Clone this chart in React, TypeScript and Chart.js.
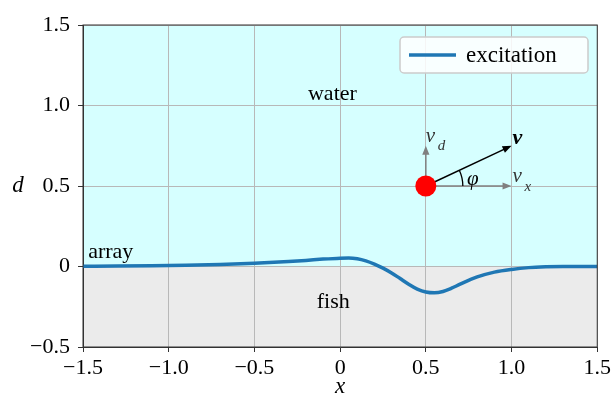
import React, { useEffect, useRef } from "react";
import { Chart, registerables } from "chart.js";

Chart.register(...registerables);

// curve data: excitation profile along the array
const xValues = [-1.5, -1.3, -1.1, -0.9, -0.7, -0.5, -0.3, -0.2, -0.1, 0, 0.05, 0.1, 0.15, 0.2, 0.25, 0.3, 0.35, 0.4, 0.45, 0.5, 0.55, 0.6, 0.65, 0.7, 0.8, 0.9, 1.0, 1.1, 1.2, 1.3, 1.5];
const yValues = [0.002, 0.003, 0.005, 0.008, 0.013, 0.02, 0.031, 0.038, 0.046, 0.052, 0.053, 0.048, 0.035, 0.015, -0.01, -0.04, -0.075, -0.11, -0.14, -0.158, -0.163, -0.155, -0.135, -0.11, -0.065, -0.035, -0.018, -0.007, -0.002, 0.0, 0.0];

const xTicks = [-1.5, -1.0, -0.5, 0, 0.5, 1.0, 1.5];
const xTickLabels = ["\u22121.5", "\u22121.0", "\u22120.5", "0", "0.5", "1.0", "1.5"];
const yTicks = [-0.5, 0, 0.5, 1.0, 1.5];
const yTickLabels = ["\u22120.5", "0", "0.5", "1.0", "1.5"];

const seriesLabel = "excitation";
const fishPos = [0.5, 0.5];
const vxEnd = [1.0, 0.5];
const vdEnd = [0.5, 0.75];
const vEnd = [1.0, 0.75];

const SERIF = "'Liberation Serif', 'DejaVu Serif', serif";

function arrow(ctx: CanvasRenderingContext2D, x1: number, y1: number, x2: number, y2: number, color: string, w: number, head: number) {
  const a = Math.atan2(y2 - y1, x2 - x1);
  ctx.save();
  ctx.strokeStyle = color;
  ctx.fillStyle = color;
  ctx.lineWidth = w;
  ctx.beginPath();
  ctx.moveTo(x1, y1);
  ctx.lineTo(x2 - head * 0.8 * Math.cos(a), y2 - head * 0.8 * Math.sin(a));
  ctx.stroke();
  ctx.beginPath();
  ctx.moveTo(x2, y2);
  ctx.lineTo(x2 - head * Math.cos(a) + head * 0.4 * Math.sin(a), y2 - head * Math.sin(a) - head * 0.4 * Math.cos(a));
  ctx.lineTo(x2 - head * Math.cos(a) - head * 0.4 * Math.sin(a), y2 - head * Math.sin(a) + head * 0.4 * Math.cos(a));
  ctx.closePath();
  ctx.fill();
  ctx.restore();
}

const bgPlugin = {
  id: "bgRegions",
  beforeDraw(chart: any) {
    const { ctx, chartArea, scales } = chart;
    const y0 = scales.y.getPixelForValue(0);
    ctx.save();
    ctx.fillStyle = "#d6ffff";
    ctx.fillRect(chartArea.left, chartArea.top, chartArea.right - chartArea.left, y0 - chartArea.top);
    ctx.fillStyle = "#ebebeb";
    ctx.fillRect(chartArea.left, y0, chartArea.right - chartArea.left, chartArea.bottom - y0);
    ctx.restore();
  },
};

const annotPlugin = {
  id: "annot",
  afterDraw(chart: any) {
    const { ctx, chartArea, scales } = chart;
    const X = (v: number) => scales.x.getPixelForValue(v);
    const Y = (v: number) => scales.y.getPixelForValue(v);
    ctx.save();
    // frame
    ctx.strokeStyle = "#333";
    ctx.lineWidth = 1;
    ctx.strokeRect(chartArea.left, chartArea.top, chartArea.right - chartArea.left, chartArea.bottom - chartArea.top);

    // axis titles
    ctx.fillStyle = "#000";
    ctx.font = `italic 23px ${SERIF}`;
    ctx.textAlign = "center";
    ctx.textBaseline = "middle";
    ctx.fillText("x", X(0), 387);
    ctx.fillText("d", 18, Y(0.5));

    // region labels
    ctx.font = `22px ${SERIF}`;
    ctx.fillText("water", X(-0.045), Y(1.07));
    ctx.fillText("fish", X(-0.04), Y(-0.22));
    ctx.textAlign = "left";
    ctx.fillText("array", X(-1.47), Y(0.09));

    // arrows
    const px = X(fishPos[0]), py = Y(fishPos[1]);
    arrow(ctx, px, py, X(vxEnd[0]), Y(vxEnd[1]), "#808080", 1.5, 9);
    arrow(ctx, px, py, X(vdEnd[0]), Y(vdEnd[1]), "#808080", 1.5, 9);
    arrow(ctx, px, py, X(vEnd[0]), Y(vEnd[1]), "#000", 1.5, 9);

    // angle arc
    const ang = Math.atan2(Y(vEnd[1]) - py, X(vEnd[0]) - px);
    ctx.strokeStyle = "#000";
    ctx.lineWidth = 1.3;
    ctx.beginPath();
    ctx.arc(px, py, 37, ang, 0);
    ctx.stroke();

    // fish dot
    ctx.fillStyle = "#ff0000";
    ctx.beginPath();
    ctx.arc(px, py, 10.5, 0, Math.PI * 2);
    ctx.fill();

    // arrow labels
    ctx.fillStyle = "#000";
    ctx.textAlign = "left";
    ctx.textBaseline = "alphabetic";
    ctx.font = `italic 21px ${SERIF}`;
    ctx.fillText("\u03c6", X(0.74), py - 1);
    ctx.fillStyle = "#333";
    ctx.fillText("v", X(vdEnd[0]) + 0, Y(vdEnd[1]) - 4);
    ctx.fillText("v", X(vxEnd[0]) + 1, py - 4);
    ctx.font = `italic 15px ${SERIF}`;
    ctx.fillText("d", X(vdEnd[0]) + 12, Y(vdEnd[1]) + 4);
    ctx.fillText("x", X(vxEnd[0]) + 13, py + 5);
    ctx.fillStyle = "#000";
    ctx.font = `italic bold 22px ${SERIF}`;
    ctx.fillText("v", X(vEnd[0]) + 1, Y(vEnd[1]) - 2);

    // legend
    const lx = 400, ly = 37, lw = 188, lh = 36, r = 4;
    ctx.fillStyle = "rgba(255,255,255,0.85)";
    ctx.strokeStyle = "#cccccc";
    ctx.lineWidth = 1.5;
    ctx.beginPath();
    ctx.roundRect(lx, ly, lw, lh, r);
    ctx.fill();
    ctx.stroke();
    ctx.strokeStyle = "#1f77b4";
    ctx.lineWidth = 3.5;
    ctx.beginPath();
    ctx.moveTo(409, ly + lh / 2);
    ctx.lineTo(456, ly + lh / 2);
    ctx.stroke();
    ctx.fillStyle = "#000";
    ctx.font = `23px ${SERIF}`;
    ctx.textBaseline = "middle";
    ctx.fillText(seriesLabel, 466, ly + lh / 2 + 1);
    ctx.restore();
  },
};

export default function App() {
  const ref = useRef<HTMLCanvasElement>(null);
  useEffect(() => {
    if (!ref.current) return;
    const data = xValues.map((x, i) => ({ x, y: yValues[i] }));
    const chart = new Chart(ref.current, {
      type: "line",
      data: {
        datasets: [
          {
            label: seriesLabel,
            data,
            borderColor: "#1f77b4",
            borderWidth: 3.5,
            pointRadius: 0,
            cubicInterpolationMode: "monotone",
            fill: false,
          },
        ],
      },
      options: {
        animation: false,
        responsive: false,
        devicePixelRatio: 1,
        layout: { padding: { top: 25, right: 16, left: 0, bottom: 0 } },
        plugins: { legend: { display: false }, tooltip: { enabled: false } },
        scales: {
          x: {
            type: "linear",
            min: -1.5,
            max: 1.5,
            afterBuildTicks: (s: any) => { s.ticks = xTicks.map((v) => ({ value: v })); },
            afterFit: (s: any) => { s.height = 58; },
            ticks: {
              color: "#000",
              font: { family: SERIF, size: 22 },
              padding: 3,
              maxRotation: 0,
              autoSkip: false,
              callback: (v: any) => { const i = xTicks.indexOf(Number(v)); return i >= 0 ? xTickLabels[i] : ""; },
            },
            grid: { color: "#b8b8b8", lineWidth: 1, tickLength: 5, tickColor: "#333" },
            border: { color: "#333", width: 1 },
          },
          y: {
            type: "linear",
            min: -0.5,
            max: 1.5,
            afterBuildTicks: (s: any) => { s.ticks = yTicks.map((v) => ({ value: v })); },
            afterFit: (s: any) => { s.width = 83; },
            ticks: {
              color: "#000",
              font: { family: SERIF, size: 22 },
              padding: 8,
              autoSkip: false,
              callback: (v: any) => { const i = yTicks.indexOf(Number(v)); return i >= 0 ? yTickLabels[i] : ""; },
            },
            grid: { color: "#b8b8b8", lineWidth: 1, tickLength: 5, tickColor: "#333" },
            border: { color: "#333", width: 1 },
          },
        },
      } as any,
      plugins: [bgPlugin, annotPlugin],
    });
    return () => chart.destroy();
  }, []);
  return (
    <div style={{ position: "absolute", left: 0, top: 0, width: 614, height: 405, background: "#fff" }}>
      <canvas ref={ref} width={614} height={405} />
    </div>
  );
}
